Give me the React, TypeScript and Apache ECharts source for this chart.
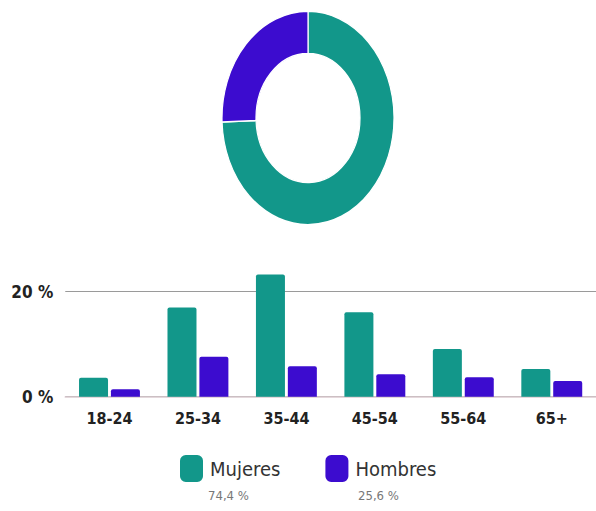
import React, { useEffect, useRef } from "react";
import * as echarts from "echarts";

const categories = ["18-24", "25-34", "35-44", "45-54", "55-64", "65+"];
const mujeres = [3.6, 17.0, 23.3, 16.1, 9.1, 5.3];
const hombres = [1.4, 7.6, 5.8, 4.3, 3.7, 3.0];
const shareNames = ["Mujeres", "Hombres"];
const shareValues = [74.4, 25.6];
const shareLabels = ["74,4 %", "25,6 %"];
const yTicks = [0, 20];

const TEAL = "#12978a";
const PURPLE = "#3c0ccf";
const FONT = "'DejaVu Sans Condensed', 'Liberation Sans Narrow', 'Roboto', sans-serif";

export default function App() {
  const ref = useRef<HTMLDivElement>(null);
  useEffect(() => {
    if (!ref.current) return;
    const chart = echarts.init(ref.current, null, { renderer: "svg" });
    const total = shareValues.reduce((a, b) => a + b, 0);
    const cum: number[] = [];
    shareValues.reduce((acc, v, i) => {
      cum[i] = acc;
      return acc + v;
    }, 0);
    const sliceColors = [TEAL, PURPLE];
    chart.setOption({
      animation: false,
      textStyle: { fontFamily: FONT },
      grid: { left: 65.25, width: 543, top: 291.7, bottom: 114.3, containLabel: false },
      legend: {
        data: shareNames.map((n) => ({ name: n, icon: "roundRect" })),
        left: 180,
        top: 455,
        padding: 0,
        itemWidth: 23,
        itemHeight: 27,
        itemGap: 45,
        textStyle: { fontSize: 20, color: "#333", fontFamily: FONT, padding: [0, 0, 0, 2] },
      },
      graphic: shareLabels.map((t, i) => ({
        type: "text",
        left: i === 0 ? 208 : 358,
        top: 489,
        style: { text: t, fontSize: 13, fill: "#777", fontFamily: FONT },
      })),
      xAxis: {
        type: "category",
        data: categories,
        axisLine: { lineStyle: { color: "#dccbd1", width: 1.5 } },
        axisTick: { show: false },
        axisLabel: { fontSize: 16, fontWeight: "bold", color: "#222", margin: 14, fontFamily: FONT },
      },
      yAxis: {
        type: "value",
        min: yTicks[0],
        max: yTicks[1],
        interval: 20,
        axisLine: { show: false },
        axisTick: { show: false },
        splitLine: { lineStyle: { color: "#9a9a9a", width: 1 } },
        axisLabel: {
          fontSize: 17,
          fontWeight: "bold",
          color: "#222",
          margin: 12,
          fontFamily: FONT,
          formatter: (v: number) => v + " %",
        },
      },
      series: [
        {
          name: "Mujeres",
          type: "bar",
          data: mujeres,
          barWidth: 29,
          barGap: "10%",
          clip: false,
          itemStyle: { color: TEAL, borderRadius: [2, 2, 0, 0] },
        },
        {
          name: "Hombres",
          type: "bar",
          data: hombres,
          barWidth: 29,
          barGap: "10%",
          clip: false,
          itemStyle: { color: PURPLE, borderRadius: [2, 2, 0, 0] },
        },
        {
          name: "share",
          type: "custom",
          coordinateSystem: "none",
          data: shareValues,
          renderItem: (params: any, api: any) => {
            const i = params.dataIndex;
            const start = -Math.PI / 2 + (2 * Math.PI * cum[i]) / total;
            const end = start + (2 * Math.PI * api.value(0)) / total;
            return {
              type: "sector",
              x: 308,
              y: 118,
              scaleY: 1.24,
              shape: { cx: 0, cy: 0, r: 86, r0: 52, startAngle: start, endAngle: end, clockwise: true },
              style: { fill: sliceColors[i], stroke: "#ffffff", lineWidth: 1.2 },
            };
          },
        },
      ],
    });
    return () => chart.dispose();
  }, []);
  return (
    <div
      ref={ref}
      style={{ position: "fixed", left: 0, top: 0, width: 596, height: 511, background: "#fff" }}
    />
  );
}
